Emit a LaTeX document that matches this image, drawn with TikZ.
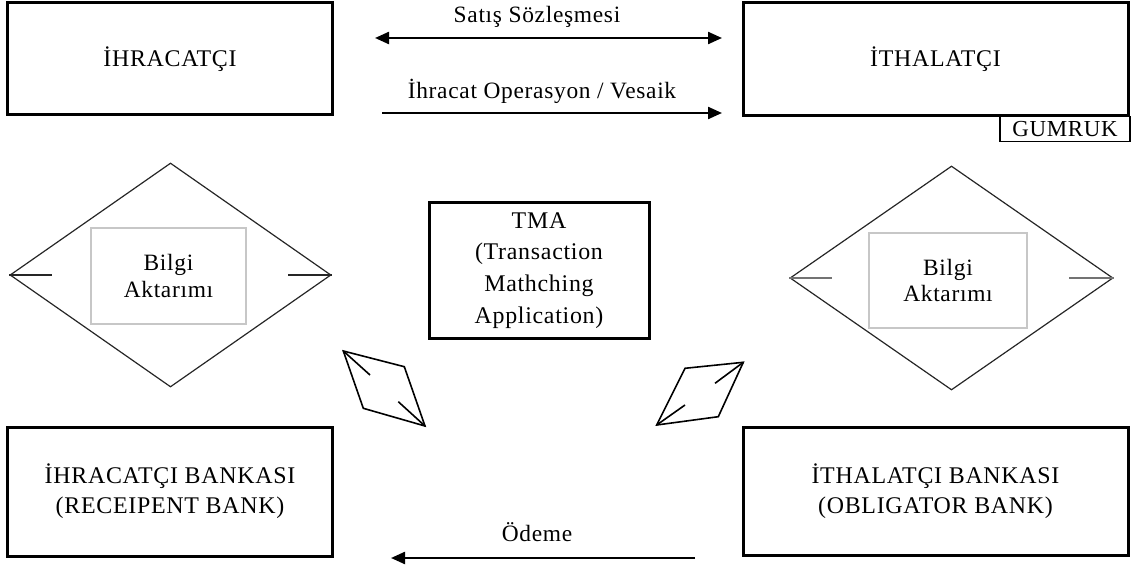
\documentclass[tikz,border=0pt]{standalone}
\usepackage{fontspec}
\setmainfont{Liberation Serif}[LetterSpace=3]
\usetikzlibrary{arrows.meta,shapes.geometric}

\begin{document}
\begin{tikzpicture}[x=1bp,y=-1bp,
  mainbox/.style={draw=black, line width=3bp, inner sep=0pt, align=center,
                  font=\fontsize{24}{30}\selectfont},
  infobox/.style={draw=black!22, line width=1.5bp, inner sep=0pt, align=center,
                  font=\fontsize{23.5}{27}\selectfont},
  rhomb/.style={draw=black!85, line width=1.2bp, diamond, inner sep=0pt,
                minimum width=321bp, minimum height=224bp},
  tick/.style={line width=1.7bp},
  lbl/.style={font=\fontsize{23.5}{28}\selectfont, inner sep=0pt},
  flowhead/.tip={Triangle[length=14bp,width=12bp]},
  flow/.style={line width=2.3bp},
  kite/.style={line width=1.6bp, line join=miter}]

\useasboundingbox (0,0) rectangle (1131,571);

% parties and their banks
\node[mainbox, minimum width=324bp, minimum height=112bp] (ihr)  at (170,59)    {İHRACATÇI};
\node[mainbox, minimum width=385bp, minimum height=113bp] (ith)  at (935.5,59.5) {İTHALATÇI};
\node[mainbox, minimum width=324bp, minimum height=129bp] (ihrb) at (170,491.5) {İHRACATÇI BANKASI\\(RECEIPENT BANK)};
\node[mainbox, minimum width=385bp, minimum height=128bp] (ithb) at (935.5,491.5) {İTHALATÇI BANKASI\\(OBLIGATOR BANK)};
\node[mainbox, minimum width=220bp, minimum height=135bp,
      font=\fontsize{24}{32}\selectfont] (tma) at (539,270.5)
      {TMA\\(Transaction\\Mathching\\Application)};
\node[draw=black, line width=1.4bp, minimum width=130bp, minimum height=25bp, inner sep=0pt,
      font=\fontsize{23}{24}\selectfont] (gumruk) at (1065,129) {GUMRUK};

% information transfer diamonds
\node[rhomb] (dl) at (170.5,275) {};
\node[infobox, minimum width=155bp, minimum height=96bp] (bl) at (168.5,276) {Bilgi\\Aktarımı};
\draw[tick, black!85] (dl.west) -- ++(43,0);
\draw[tick, black!85] (dl.east) -- ++(-44,0);

\node[rhomb, minimum width=323bp] (dr) at (951.5,278) {};
\node[infobox, minimum width=158bp, minimum height=95bp] (br) at (948,280.5) {Bilgi\\Aktarımı};
\draw[tick, black!55] (dr.west) -- ++(43,0);
\draw[tick, black!55] (dr.east) -- ++(-45,0);

% flows between the parties
\coordinate (s1) at (375,38);
\coordinate (s2) at (722,38);
\draw[flow, flowhead-flowhead] (s1) -- (s2);
\node[lbl] (satis) at (537,17) {Satış Sözleşmesi};

\coordinate (v1) at (382,113);
\coordinate (v2) at (722,113);
\draw[flow, -flowhead] (v1) -- (v2);
\node[lbl] (vesaik) at (542,91) {İhracat Operasyon / Vesaik};

\coordinate (o1) at (695,558);
\coordinate (o2) at (391,558);
\draw[flow, -flowhead] (o1) -- (o2);
\node[lbl] (odeme) at (537,532) {Ödeme};

% two-way links between the banks and TMA
\coordinate (ka) at (343.3,351);
\coordinate (kb) at (404.3,366.7);
\coordinate (kc) at (425,426);
\coordinate (kd) at (363.3,408.3);
\draw[kite] (ka) -- (kb) -- (kc) -- (kd) -- cycle;
\draw[kite] (ka) -- (370,375);
\draw[kite] (kc) -- (398.3,401.7);

\coordinate (ma) at (656.7,425);
\coordinate (mb) at (685,368.3);
\coordinate (mc) at (743.3,362.3);
\coordinate (md) at (718.3,416.7);
\draw[kite] (ma) -- (mb) -- (mc) -- (md) -- cycle;
\draw[kite] (ma) -- (685,405);
\draw[kite] (mc) -- (715,383.3);
\end{tikzpicture}
\end{document}
